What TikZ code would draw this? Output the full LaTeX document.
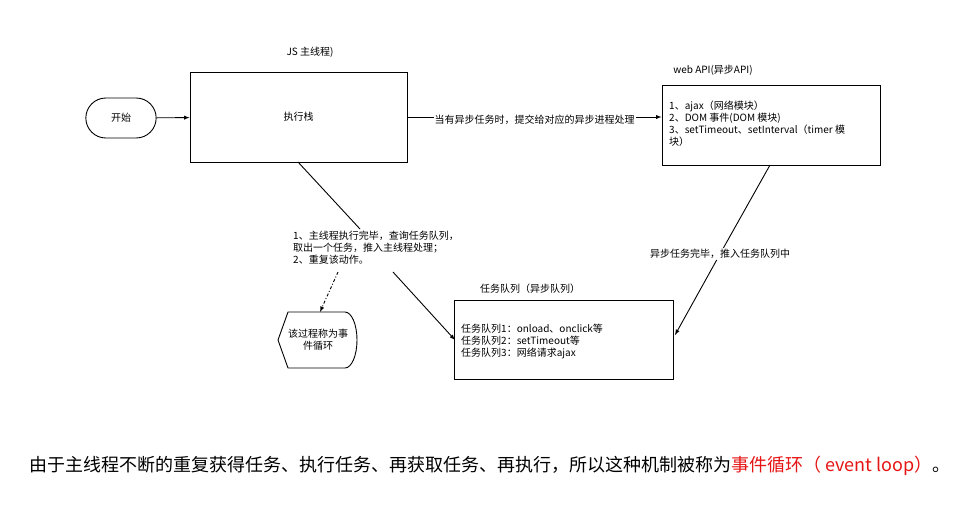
\documentclass[tikz,border=0pt]{standalone}
\usepackage{fontspec}
\setmainfont{Noto Sans CJK SC}
\usetikzlibrary{positioning,shapes.misc}
\definecolor{loopred}{RGB}{230,20,20}
\tikzset{
  box/.style={draw, line width=0.9pt, minimum width=217pt, minimum height=90pt},
  note/.style={font=\fontsize{10}{12}\selectfont, align=left, inner sep=1pt},
  flow/.style={->, >=latex, line width=0.9pt}
}
\begin{document}
\begin{tikzpicture}[x=1pt, y=-1pt]
\useasboundingbox (0,0) rectangle (973,528);
% boxes
\node [draw, line width=0.9pt, rounded rectangle, minimum width=77pt, minimum height=40pt, font=\fontsize{10}{12}\selectfont] (start) at (121,118) {开始};
\node [box] (stack) at (298.5,117) {};
\node [font=\fontsize{10}{12}\selectfont] at (stack) {执行栈};
\node [note] at (310,52) {JS 主线程)};
\node [box, minimum width=218pt, minimum height=80pt] (web) at (771,125) {};
\node [note] at (713,70) {web API(异步API)};
\node [note, anchor=west] at (668,124) {1、ajax（网络模块）\\2、DOM 事件(DOM 模块)\\3、setTimeout、setInterval（timer 模\\块）};
\node [box, minimum width=219pt, minimum height=79pt] (queue) at (563.5,339.5) {};
\node [note] at (530,289) {任务队列（异步队列）};
\node [note, anchor=west] at (460,341) {任务队列1：onload、onclick等\\任务队列2：setTimeout等\\任务队列3：网络请求ajax};
% hexagon
\coordinate (hexL) at (278,340);
\coordinate (hexT) at (320,312);
\draw [line width=0.9pt] (hexL) -- (288,312) -- (345,312) arc (-90:90:12 and 28) -- (288,368) -- cycle;
\node [note, align=center] (hexlabel) at (318,340) {该过程称为事\\件循环};
% connectors
\draw [flow] (start) -- (stack);
\draw [flow] (stack.east) -- node [fill=white, note, pos=0.5, yshift=-3pt] {当有异步任务时，提交给对应的异步进程处理} (web.west |- stack.east);
\node [note, fill=white] (waitnote) at (720,254) {异步任务完毕，推入任务队列中};
\draw [flow] (770,165) -- (waitnote) -- (675,335);
\node [note] (mainnote) at (376,248) {1、主线程执行完毕，查询任务队列，\\取出一个任务，推入主线程处理；\\2、重复该动作。};
\draw [line width=0.9pt] (298,162) -- (360,229);
\draw [flow] (393,272) -- (455,340);
\draw [flow, dash dot] (338,272) -- (hexT);
% caption
\node [font=\fontsize{18}{21}\selectfont] at (490,466) {由于主线程不断的重复获得任务、执行任务、再获取任务、再执行，所以这种机制被称为\textcolor{loopred}{事件循环（ event loop）}。};
\end{tikzpicture}
\end{document}
